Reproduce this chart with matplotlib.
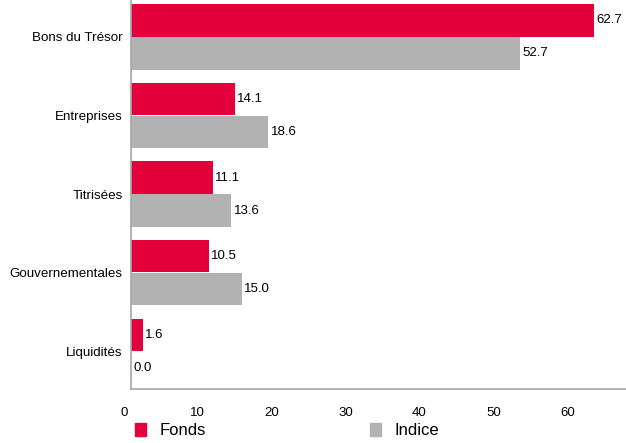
import numpy as np
import matplotlib
matplotlib.use("Agg")
import matplotlib.pyplot as plt
import matplotlib.transforms as mtransforms
from matplotlib.patches import Patch

# donnees
categories = ["Bons du Trésor", "Entreprises", "Titrisées", "Gouvernementales", "Liquidités"]
fonds = [62.7, 14.1, 11.1, 10.5, 1.6]
indice = [52.7, 18.6, 13.6, 15.0, 0.0]
xticks = [0, 10, 20, 30, 40, 50, 60]

rouge = "#E4003A"
gris = "#B2B2B2"

plt.rcParams['font.family'] = ['Liberation Sans', 'DejaVu Sans']

fig = plt.figure(figsize=(6.26, 4.43), dpi=100)
ax = fig.add_axes([131 / 626, 54 / 443, 1 - 131 / 626, 1 - 54 / 443])

y = np.arange(len(categories))
h = 0.41
b1 = ax.barh(y - h / 2 - 0.005, fonds, height=h, color=rouge)
b2 = ax.barh(y + h / 2 + 0.005, indice, height=h, color=gris)

ax.bar_label(b1, fmt='%.1f', padding=1.5, fontsize=9.5)
ax.bar_label(b2, fmt='%.1f', padding=1.5, fontsize=9.5)

ax.set_ylim(len(categories) - 1 + 0.48, -0.47)
ax.set_xlim(0, 67)
ax.set_yticks(y)
ax.set_yticklabels(categories, fontsize=9.6)
ax.set_xticks(xticks)
ax.set_xticklabels([str(t) for t in xticks], fontsize=9.5)
ax.tick_params(axis='both', length=0)
ax.tick_params(axis='y', pad=6)
ax.tick_params(axis='x', pad=13)

# decalage des etiquettes de l'axe x
decal = mtransforms.ScaledTranslation(-7 / 100, 0, fig.dpi_scale_trans)
for lab in ax.get_xticklabels():
    lab.set_transform(lab.get_transform() + decal)

for s in ['top', 'right']:
    ax.spines[s].set_visible(False)
for s in ['left', 'bottom']:
    ax.spines[s].set_color('#A6A6A6')
    ax.spines[s].set_linewidth(1.2)

handles = [Patch(color=rouge, label='Fonds'), Patch(color=gris, label='Indice')]
fig.legend(handles=handles, loc='upper left', bbox_to_anchor=(135 / 626, 1 - 423 / 443),
           ncol=2, frameon=False, fontsize=12, handlelength=0.65, handleheight=0.8,
           handletextpad=0.85, columnspacing=9.8, borderpad=0, borderaxespad=0)

fig.savefig("out.png", dpi=100)
